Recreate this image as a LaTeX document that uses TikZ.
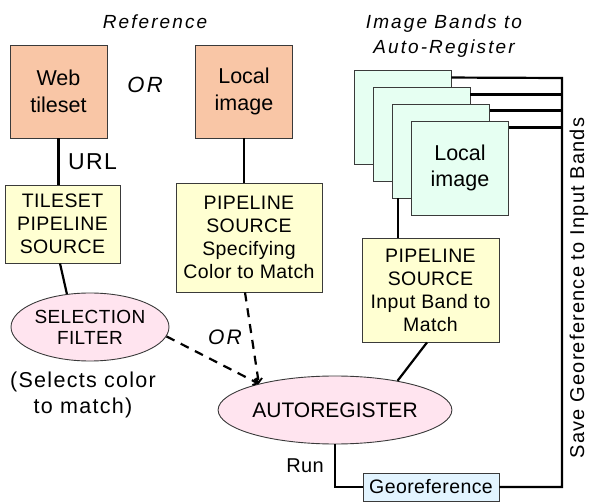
\documentclass[tikz,border=0pt]{standalone}
\usepackage{fontspec}
\setmainfont{Liberation Sans}
\newfontfamily\lsfont[LetterSpace=11]{Liberation Sans}
\newfontfamily\lsfontb[LetterSpace=2]{Liberation Sans}
\newfontfamily\lsfontc[LetterSpace=6]{Liberation Sans}
\usetikzlibrary{shapes.geometric,arrows.meta}
\definecolor{salmon}{HTML}{F9C6A6}
\definecolor{paleyellow}{HTML}{FFFFD2}
\definecolor{mint}{HTML}{E6FFF2}
\definecolor{pinkfill}{HTML}{FFE4EF}
\definecolor{paleblue}{HTML}{E2F4FF}
\definecolor{boxline}{HTML}{3A3A3A}
\begin{document}
\begin{tikzpicture}[x=1pt,y=-1pt,
  every node/.style={inner sep=0pt, align=center},
  fbox/.style={draw=boxline, line width=0.9pt},
  src/.style={fbox, fill=salmon, minimum width=97pt, minimum height=93pt, font=\fontsize{21.5}{27}\selectfont},
  pipe/.style={fbox, fill=paleyellow, font=\lsfontb\fontsize{19.5}{23}\selectfont},
  band/.style={fbox, fill=mint, minimum width=97pt, minimum height=94pt},
  oval/.style={ellipse, fbox, fill=pinkfill},
  conn/.style={line width=2.2pt},
  dconn/.style={line width=2.2pt, dash pattern=on 9pt off 7pt, -{Straight Barb[length=4pt,width=8pt,line width=1.8pt]}},
  itlab/.style={font=\lsfont\itshape\fontsize{19}{25}\selectfont},
  plain/.style={font=\lsfontb\fontsize{19.5}{23}\selectfont}
]
\useasboundingbox (0,0) rectangle (589,502);

% titles
\node[itlab] (reftitle) at (155,22) {Reference};
\node[itlab] (bandtitle) at (444,36) {Image Bands to\\Auto-Register};

% reference sources
\node[src] (web) at (58.5,91.5) {Web\\tileset};
\node[font=\lsfont\itshape\fontsize{22}{24}\selectfont] (or1) at (145,85) {OR};
\node[src] (loc) at (244,91.5) {Local\\image};

\node[pipe, minimum width=115pt, minimum height=78pt] (tile) at (62.5,224) {TILESET\\PIPELINE\\SOURCE};
\node[font=\lsfontc\fontsize{23}{24}\selectfont] (url) at (92.5,162) {URL};
\node[pipe, minimum width=146pt, minimum height=109pt] (spec) at (249,237.5) {PIPELINE\\SOURCE\\Specifying\\Color to Match};

\node[oval, minimum width=158pt, minimum height=68pt, font=\lsfontb\fontsize{19}{21}\selectfont] (sel) at (90,327) {SELECTION\\FILTER};
\node[font=\lsfontc\fontsize{21.5}{26}\selectfont] (selcap) at (83,395) {(Selects color\\to match)};

\node[oval, minimum width=208pt, minimum height=68pt, font=\fontsize{21}{24}\selectfont] (auto) at (335,410) {AUTOREGISTER};
\node[font=\lsfont\itshape\fontsize{21}{24}\selectfont] (or2) at (225,337) {OR};

% image bands
\node[band] (r1) at (402.5,117) {};
\node[band] (r2) at (421.5,134) {};
\node[band] (r3) at (441,151) {};
\node[band, font=\fontsize{21.5}{26}\selectfont] (r4) at (460,168) {Local\\image};

\node[pipe, minimum width=137pt, minimum height=104pt] (inp) at (430.5,290) {PIPELINE\\SOURCE\\Input Band to\\Match};

\node[fbox, fill=paleblue, minimum width=136pt, minimum height=28pt, plain] (geo) at (431,487) {Georeference};
\node[plain, font=\lsfontb\fontsize{20}{23}\selectfont] (run) at (305,466) {Run};

\node[font=\lsfontc\fontsize{20}{24}\selectfont, rotate=90] (save) at (579,288) {Save Georeference to Input Bands};

% connectors
\draw[conn] (web.south) -- (tile.north -| web.south);
\draw[conn] (loc.south) -- (spec.north -| loc.south);
\draw[conn] ([xshift=-2.5pt]tile.south) -- (sel.125);

\draw[dconn] (sel.-7) -- (auto.161);
\draw[dconn] ([xshift=-4pt]spec.south) -- (auto.161);

\coordinate (b3) at ([xshift=-43pt]r3.south);
\draw[conn] (b3) -- (b3 |- inp.north);
\draw[conn] ([xshift=-3.5pt]inp.south) -- (auto.25);

\coordinate (t1) at ([yshift=-8pt]r1.north east);
\coordinate (t2) at ([yshift=-8pt]r2.north east);
\coordinate (t3) at ([yshift=-7pt]r3.north east);
\coordinate (t4) at ([yshift=-7pt]r4.north east);
\coordinate (busTop) at (562,78);
\draw[conn] (t1) -- (busTop) -- (busTop |- geo.east) -- (geo.east);
\draw[conn] (t2) -- (t2 -| busTop);
\draw[conn] (t3) -- (t3 -| busTop);
\draw[conn] (t4) -- (t4 -| busTop);

\draw[conn] (auto.south) -- (auto.south |- geo.west) -- (geo.west);
\end{tikzpicture}
\end{document}
